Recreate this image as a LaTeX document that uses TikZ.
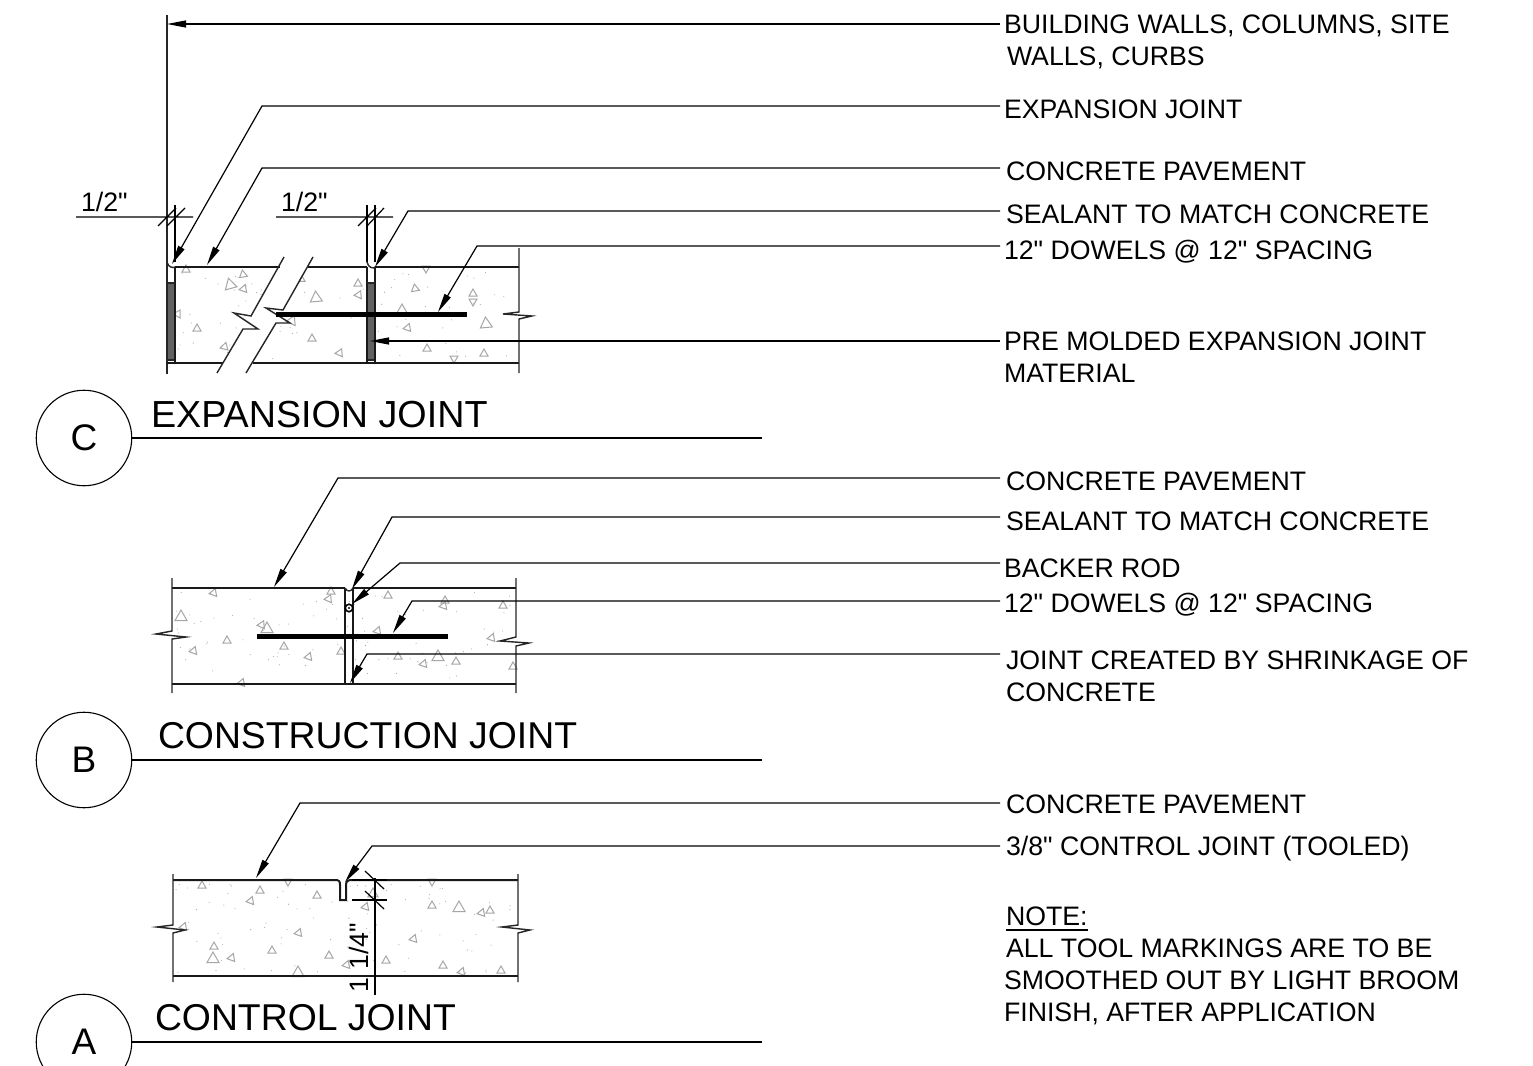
\documentclass[tikz,border=0pt]{standalone}
\usepackage{fontspec}
\setmainfont{Liberation Sans}[Ligatures=TeXOff]
\usetikzlibrary{arrows.meta}
\tikzset{
  lbl/.style={anchor=base west,inner sep=0pt,outer sep=0pt,text=black,font=\fontsize{26.7}{30}\selectfont},
  ttl/.style={anchor=base west,inner sep=0pt,outer sep=0pt,text=black,font=\fontsize{37.35}{40}\selectfont},
  bub/.style={draw=black,line width=1.1pt,circle,minimum size=95.5pt,inner sep=0pt,font=\fontsize{37}{40}\selectfont},
  leader/.style={draw=black,line width=1.2pt,-{Triangle[length=19pt,width=7pt]}},
  thin/.style={draw=black,line width=1.2pt},
  slab/.style={draw=black!90,line width=2pt},
  edge/.style={draw=black!85,line width=1.4pt},
  dowel/.style={draw=black,line width=5pt},
  aggr/.style={draw=black!35,line width=1pt,line join=miter},
  grit/.style={fill=black!35,draw=none},
  filler/.style={fill=black!62,draw=black!85,line width=1.2pt}
}
\newcommand{\aggregates}[1]{\foreach \px/\py/\ps/\pr in {#1}{%
  \draw[aggr,shift={(\px,\py)},rotate=\pr] (0,-\ps)--(\ps,0.75*\ps)--(-\ps,0.75*\ps)--cycle;}}
\newcommand{\grits}[5]{\foreach \pi in {1,...,#5}{%
  \pgfmathsetmacro\gx{#1+rnd*(#3-#1)}\pgfmathsetmacro\gy{#2+rnd*(#4-#2)}%
  \fill[grit] (\gx,\gy) circle (.55pt);}}
\begin{document}
\begin{tikzpicture}[x=1pt,y=-1pt]
\useasboundingbox (0,0) rectangle (1533,1065);
\fill[white] (0,0) rectangle (1533,1065);
\pgfmathsetseed{11}
% --- aggregate, panel C
\grits{178}{272}{515}{360}{85}
\fill[white] (284,257)--(251,316)--(243,329)--(217,373)--(246,373)--(276,323)--(283,310)--(313,257)--cycle;
\aggregates{186/269/4/0,243/274/4/10,230/284/6/15,243/289/4/100,177/314/4/90,197/328/4/0,224/347/4/105,
316/297/6/5,302/279/3/0,358/283/4/0,358/295/4/95,402/309/5/0,291/321/5/95,312/338/4/0,339/353/4/95,
426/269/4/180,415/288/4/10,473/293/4/0,473/302/4/180,407/328/4/100,486/323/6/5,427/348/4/0,484/353/4/0,454/359/4/180}
% --- aggregate, panel B
\grits{175}{592}{513}{680}{85}
\aggregates{213/593/4/100,331/591/4/0,328/599/4/95,181/616/6/0,267/628/6/0,261/625/4/95,227/640/4/0,193/651/4/100,
284/646/4/0,308/657/4/100,341/651/4/0,241/683/4/100,388/595/4/0,445/600/4/0,443/606/4/100,503/605/4/0,377/631/4/100,
491/638/4/100,398/656/4/0,438/656/6/0,423/664/4/100,456/661/4/0,513/666/4/0}
% --- aggregate, panel A
\grits{176}{884}{515}{973}{85}
\aggregates{202/885/4/0,260/890/4/0,250/901/4/100,288/882/4/180,317/895/4/0,365/907/4/100,373/893/5/0,432/905/4/0,432/882/4/180,
459/907/6/0,481/913/4/100,490/910/4/0,183/927/4/100,298/933/4/100,413/939/4/100,214/946/4/0,213/958/6/0,231/958/4/100,272/950/4/0,
329/955/4/0,346/965/4/100,386/960/4/0,443/965/4/0,461/972/4/100,501/970/4/0,298/972/6/0}
% --- panel C slab
\draw[edge] (167,15)--(167,374);
\draw[thin] (175,205)--(175,262);
\draw[thin] (367,205)--(367,262);
\draw[thin] (375,205)--(375,262);
\draw[filler] (167,283) rectangle (175,360);
\draw[filler] (367,283) rectangle (375,360);
\draw[slab] (175,267)--(175,363) (367,267)--(367,363) (375,267)--(375,363);
\draw[edge] (167,283)--(175,283) (367,283)--(375,283);
\draw[edge] (167,262) .. controls (168,268) and (174,268) .. (175,267);
\draw[edge] (367,262) .. controls (368,268) and (374,269) .. (375,267);
\draw[slab] (175,267)--(280,267) (308,267)--(367,267) (375,267)--(519,267);
\draw[slab] (167,363)--(223,363) (253,363)--(519,363);
\draw[edge] (519,248)--(519,312)--(503,314)--(532,316)--(519,319)--(519,373);
\draw[edge] (284,257)--(251,316)--(234,313)--(258,329)--(243,329)--(217,373);
\draw[edge] (313,257)--(283,310)--(266,308)--(290,323)--(276,323)--(246,373);
\draw[dowel] (276,314)--(467,314);
% dimensions C
\draw[thin] (76,217)--(193,217) (158,226)--(176,208) (167,226)--(185,208);
\draw[thin] (276,217)--(393,217) (358,226)--(376,208) (367,226)--(384,208);
\node[lbl] (halfa) at (81,211) {1/2"};
\node[lbl] (halfb) at (281,211) {1/2"};
% --- panel B slab
\draw[slab] (172,588)--(345,588) (353,588)--(516,588) (172,684)--(516,684);
\draw[slab] (345,588)--(345,684) (353,588)--(353,684);
\draw[edge] (345,588) .. controls (347,592) and (351,592) .. (353,588);
\draw[edge] (172,578)--(172,631)--(156,634)--(186,637)--(172,639)--(172,693);
\draw[edge] (516,578)--(516,637)--(500,641)--(529,643)--(516,646)--(516,693);
\draw[dowel] (257,636)--(448,636);
\node[circle,draw=black,fill=white,line width=1.6pt,minimum size=7.5pt,inner sep=0pt] (rod) at (349,608) {};
\fill[black] (rod.center) circle (1.1pt);
% --- panel A slab
\draw[slab] (173,880)--(335,880) .. controls (339,880) and (340,881) .. (340,885)--(340,900)--(346,900)--(346,885) .. controls (346,881) and (348,880) .. (352,880)--(518,880);
\draw[slab] (173,976)--(518,976);
\draw[edge] (173,874)--(173,925)--(157,927)--(185,930)--(173,933)--(173,982);
\draw[edge] (518,874)--(518,925)--(502,927)--(530,930)--(518,933)--(518,982);
% dimension A
\draw[thin] (375,878)--(375,995) (352,900)--(387,900) (352,880)--(387,880);
\draw[thin] (365,871)--(384,889) (365,891)--(384,909);
\node[lbl,rotate=90] (oneq) at (368,992) {1 1/4"};
% --- titles
\node[bub] (circC) at (84,438) {C};
\node[bub] (circB) at (84,760) {B};
\node[bub] (circA) at (84,1042) {A};
\coordinate (rC) at (762,438);
\coordinate (rB) at (762,760);
\coordinate (rA) at (762,1042);
\draw[thin] (circC) -- (rC);
\draw[thin] (circB) -- (rB);
\draw[thin] (circA) -- (rA);
\node[ttl,font=\fontsize{37.7}{40}\selectfont] (tC) at (151,427) {EXPANSION JOINT};
\node[ttl] (tB) at (158,748) {CONSTRUCTION JOINT};
\node[ttl] (tA) at (155,1030) {CONTROL JOINT};
% --- labels
\node[lbl] (l1) at (1004,34) {BUILDING WALLS, COLUMNS, SITE};
\node[lbl] (l1b) at (1007,66) {WALLS, CURBS};
\node[lbl] (l2) at (1004,118) {EXPANSION JOINT};
\node[lbl] (l3) at (1006,180) {CONCRETE PAVEMENT};
\node[lbl] (l4) at (1006,223) {SEALANT TO MATCH CONCRETE};
\node[lbl] (l5) at (1004,259) {12" DOWELS @ 12" SPACING};
\node[lbl] (l6) at (1004,350) {PRE MOLDED EXPANSION JOINT};
\node[lbl] (l6b) at (1004,382) {MATERIAL};
\node[lbl] (l7) at (1006,490) {CONCRETE PAVEMENT};
\node[lbl] (l8) at (1006,530) {SEALANT TO MATCH CONCRETE};
\node[lbl] (l9) at (1004,577) {BACKER ROD};
\node[lbl] (l10) at (1004,612) {12" DOWELS @ 12" SPACING};
\node[lbl] (l11) at (1006,669) {JOINT CREATED BY SHRINKAGE OF};
\node[lbl] (l11b) at (1006,701) {CONCRETE};
\node[lbl] (l12) at (1006,813) {CONCRETE PAVEMENT};
\node[lbl] (l13) at (1006,855) {3/8" CONTROL JOINT (TOOLED)};
\node[lbl] (n0) at (1006,925) {NOTE:};
\draw[thin] (1006,930)--(1088,930);
\node[lbl] (n1) at (1006,957) {ALL TOOL MARKINGS ARE TO BE};
\node[lbl] (n2) at (1004,989) {SMOOTHED OUT BY LIGHT BROOM};
\node[lbl] (n3) at (1004,1021) {FINISH, AFTER APPLICATION};
% --- leader anchors and targets
\foreach \n/\y in {s1/24,s2/106,s3/168,s4/211,s5/246,s6/341,s7/478,s8/517,s9/563,s10/601,s11/654,s12/803,s13/846}
  \coordinate (\n) at (1000,\y);
\coordinate (t1) at (167,24);
\coordinate (t2) at (172,264);
\coordinate (t3) at (207,265);
\coordinate (t4) at (375,267);
\coordinate (t5) at (438,312);
\coordinate (t6) at (370,341);
\coordinate (t7) at (274,587);
\coordinate (t8) at (352,589);
\coordinate (t9) at (352,604);
\coordinate (t10) at (393,633);
\coordinate (t11) at (350,683);
\coordinate (t12) at (256,878);
\coordinate (t13) at (345,882);
\draw[leader] (s1)--(t1);
\draw[leader] (s2)--(262,106)--(t2);
\draw[leader] (s3)--(262,168)--(t3);
\draw[leader] (s4)--(408,211)--(t4);
\draw[leader] (s5)--(477,246)--(t5);
\draw[leader] (s6)--(t6);
\draw[leader] (s7)--(338,478)--(t7);
\draw[leader] (s8)--(392,517)--(t8);
\draw[leader] (s9)--(400,563)--(t9);
\draw[leader] (s10)--(412,601)--(t10);
\draw[leader] (s11)--(367,654)--(t11);
\draw[leader] (s12)--(300,803)--(t12);
\draw[leader] (s13)--(372,846)--(t13);
\end{tikzpicture}
\end{document}
